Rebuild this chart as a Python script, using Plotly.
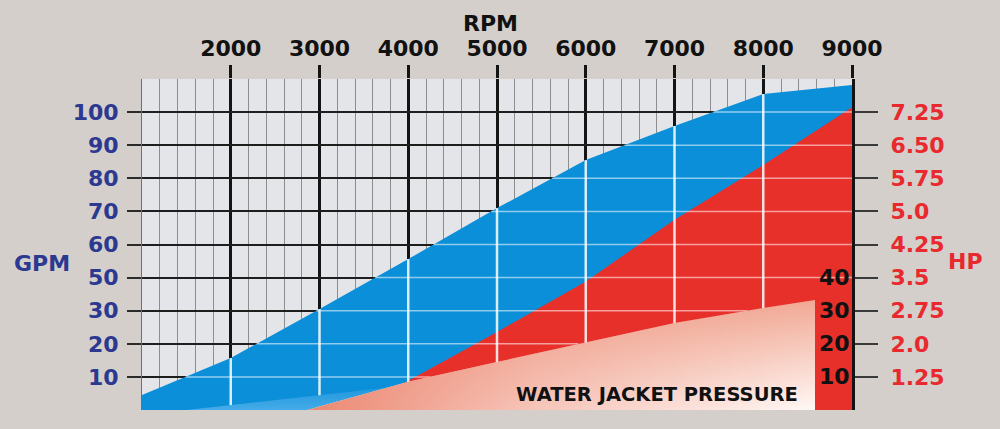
import numpy as np
import plotly.graph_objects as go

# ---------------- data ----------------
rpm_ticks = [2000, 3000, 4000, 5000, 6000, 7000, 8000, 9000]

gpm_tickvals = [10, 20, 30, 40, 50, 60, 70, 80, 90]
gpm_ticktext = ["10", "20", "30", "50", "60", "70", "80", "90", "100"]

hp_tickvals = [1.25, 2.0, 2.75, 3.5, 4.25, 5.0, 5.75, 6.5, 7.25]
hp_ticktext = ["1.25", "2.0", "2.75", "3.5", "4.25", "5.0", "5.75", "6.50", "7.25"]

pressure_tickvals = [10, 20, 30, 40]

# GPM curve (axis units of the left scale)
gpm_rpm = [1000, 2000, 3000, 4000, 5000, 6000, 7000, 7500, 8000, 9000]
gpm_val = [4.5, 15.7, 30.5, 45.6, 61.0, 75.5, 85.8, 90.6, 95.5, 98.2]

# HP curve
hp_rpm = [3400, 4000, 5000, 6000, 7000, 8000, 9000]
hp_val = [0.5, 1.16, 2.27, 3.41, 4.81, 6.05, 7.36]

# Water jacket pressure
pr_rpm = [2860, 4000, 5000, 6000, 7000, 8000, 8583]
pr_val = [0, 8.5, 14.5, 20.5, 26.3, 30.8, 33.2]

# light glow along the bottom of the flow area
glow_rpm = [1500, 2000, 3000, 4000]
glow_val = [0, 1.5, 4.5, 7.5]

# ---------------- styles ----------------
BG = "#d4cfcb"
GRID_BG = "#e3e5e9"
BLUE = "#0b8fd9"
RED = "#e8302b"
NAVY = "#2b3990"
LABEL_RED = "#e8292d"
FONT = "DejaVu Sans"

L, R, T, B = 142, 148, 79, 19
W, H = 1000, 429
PW, PH = W - L - R, H - T - B


def px(x):
    return (x - L) / PW


def py(y):
    return (H - B - y) / PH


fig = go.Figure()

# flow (GPM) area
fig.add_trace(go.Scatter(x=gpm_rpm, y=gpm_val, mode="lines", fill="tozeroy",
                         fillcolor=BLUE, line=dict(width=0, color=BLUE),
                         hoverinfo="skip", yaxis="y", showlegend=False))

# horsepower area
fig.add_trace(go.Scatter(x=hp_rpm, y=hp_val, mode="lines", fill="tozeroy",
                         fillcolor=RED, line=dict(width=0, color=RED),
                         hoverinfo="skip", yaxis="y2", showlegend=False))

# light grid lines over the coloured areas (y3 shares the left scale units)
vx, vy = [], []
for r in rpm_ticks[:-1]:
    top = float(np.interp(r, gpm_rpm, gpm_val))
    vx += [r, r, None]
    vy += [0, top, None]
fig.add_trace(go.Scatter(x=vx, y=vy, mode="lines",
                         line=dict(color="rgba(255,255,255,0.85)", width=2.5),
                         hoverinfo="skip", yaxis="y3", showlegend=False))

hx, hy = [], []
for lv in gpm_tickvals:
    x0 = float(np.interp(lv, gpm_val, gpm_rpm))
    if lv < max(pr_val):
        x1 = float(np.interp(lv, pr_val, pr_rpm))
    else:
        x1 = 9000
    hx += [x0, x1, None]
    hy += [lv, lv, None]
fig.add_trace(go.Scatter(x=hx, y=hy, mode="lines",
                         line=dict(color="rgba(255,255,255,0.55)", width=1.5),
                         hoverinfo="skip", yaxis="y3", showlegend=False))

# glow band
fig.add_trace(go.Scatter(x=glow_rpm, y=glow_val, mode="lines", fill="tozeroy",
                         line=dict(width=0, color="rgba(0,0,0,0)"),
                         fillgradient=dict(type="vertical", start=0, stop=7.5,
                                           colorscale=[[0, "#45abe8"], [1, "#1c96dc"]]),
                         hoverinfo="skip", yaxis="y3", showlegend=False))

# water jacket pressure area (two gradient layers)
fig.add_trace(go.Scatter(x=pr_rpm, y=pr_val, mode="lines", fill="tozeroy",
                         line=dict(width=0, color="rgba(0,0,0,0)"),
                         fillgradient=dict(type="vertical", start=0, stop=33.2,
                                           colorscale=[[0, "#fff8f5"], [1, "#f1a995"]]),
                         hoverinfo="skip", yaxis="y3", showlegend=False))
fig.add_trace(go.Scatter(x=pr_rpm, y=pr_val, mode="lines", fill="tozeroy",
                         line=dict(width=0, color="rgba(0,0,0,0)"),
                         fillgradient=dict(type="horizontal", start=2860, stop=8583,
                                           colorscale=[[0, "rgba(236,136,114,1)"],
                                                       [0.45, "rgba(236,136,114,0.45)"],
                                                       [1, "rgba(236,136,114,0)"]]),
                         hoverinfo="skip", yaxis="y3", showlegend=False))

tick_font = dict(family=FONT, size=22, weight=700)

fig.update_layout(
    width=W, height=H,
    margin=dict(l=L, r=R, t=T, b=B, pad=0),
    paper_bgcolor=BG, plot_bgcolor=GRID_BG,
    showlegend=False,
    xaxis=dict(range=[1000, 9000], side="top", tickvals=rpm_ticks,
               ticktext=[str(v) for v in rpm_ticks],
               ticks="outside", ticklen=13, tickwidth=3, tickcolor="#141414",
               tickfont=dict(color="#111111", **tick_font),
               showgrid=True, gridcolor="#141414", gridwidth=3,
               minor=dict(tick0=1000, dtick=200, showgrid=True,
                          gridcolor="#8d8d8d", gridwidth=1, ticks=""),
               showline=False, zeroline=False, fixedrange=True),
    xaxis2=dict(range=[1000, 9000], overlaying="x", side="bottom", anchor="y",
                showline=True, linecolor="#1c1c1c", linewidth=3,
                showticklabels=False, ticks="", showgrid=False, zeroline=False),
    yaxis=dict(range=[0, 100], side="left", tickvals=gpm_tickvals,
               ticktext=gpm_ticktext, ticks="outside", ticklen=14,
               tickwidth=2, tickcolor="#2a2a2a",
               tickfont=dict(color=NAVY, **tick_font), ticklabelstandoff=4,
               showgrid=True, gridcolor="#1e1e1e", gridwidth=2,
               showline=True, linecolor="#6e6e6e", linewidth=1,
               zeroline=False),
    yaxis2=dict(range=[0.5, 8.0], overlaying="y", side="right", anchor="x",
                tickvals=hp_tickvals, ticktext=hp_ticktext,
                ticks="outside", ticklen=23, tickwidth=2, tickcolor="#3a3a3a",
                tickfont=dict(color=LABEL_RED, **tick_font), ticklabelstandoff=8,
                showgrid=False, showline=True, linecolor="#141414", linewidth=3,
                zeroline=False),
    yaxis3=dict(range=[0, 100], overlaying="y", side="right", anchor="x",
                showticklabels=False, ticks="",
                showgrid=False, showline=False, zeroline=False),
)

# pressure scale labels, placed just inside the right edge of the plot
for v in pressure_tickvals:
    fig.add_annotation(text=str(v), x=9000, y=v, xref="x", yref="y3",
                       xanchor="right", yanchor="middle", xshift=0,
                       showarrow=False,
                       font=dict(family=FONT, size=22, weight=700, color="#111111"))

ann_font = dict(family=FONT, weight=700)
for text, xx, yy, size, color in [
    ("RPM", 490, 23, 22, "#111111"),
    ("GPM", 42, 263, 22, NAVY),
    ("HP", 965, 261, 22, LABEL_RED),
    ("WATER JACKET PRESSURE", 657, 394, 19.5, "#111111"),
]:
    fig.add_annotation(text=text, x=px(xx), y=py(yy), xref="paper", yref="paper",
                       xanchor="center", yanchor="middle", showarrow=False,
                       font=dict(size=size, color=color, **ann_font))

fig.write_html("out.html", config={"displayModeBar": False},
               post_script="document.body.style.margin='0px';")
